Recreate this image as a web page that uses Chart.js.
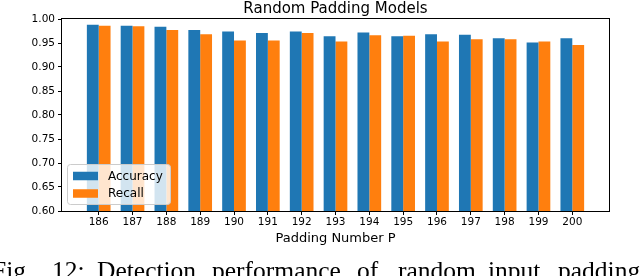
<!DOCTYPE html>
<html>
<head>
<meta charset="utf-8">
<script src="https://cdn.jsdelivr.net/npm/chart.js@4"></script>
<style>
  html, body { margin: 0; padding: 0; background: #fff; overflow: hidden; }
  #wrap { position: relative; width: 640px; height: 276px; }
  #caption span {
    position: absolute; top: 257.5px;
    font-family: "Liberation Serif", serif; font-size: 25.5px;
    line-height: 1; white-space: nowrap; color: #000;
  }
</style>
</head>
<body>
<div id="wrap">
  <canvas id="paddingChart" width="640" height="276"></canvas>
  <div id="caption"></div>
</div>
<script>
// padding number P
const categories = [186, 187, 188, 189, 190, 191, 192, 193, 194, 195, 196, 197, 198, 199, 200];
const accuracy = [0.988, 0.986, 0.984, 0.977, 0.974, 0.971, 0.974, 0.964, 0.972, 0.964, 0.968, 0.967, 0.960, 0.951, 0.960];
const recall = [0.986, 0.985, 0.977, 0.968, 0.955, 0.955, 0.971, 0.953, 0.966, 0.965, 0.953, 0.958, 0.958, 0.953, 0.946];
const yTicks = [0.60, 0.65, 0.70, 0.75, 0.80, 0.85, 0.90, 0.95, 1.00];

const captionWords = ['Fig.', '12:', 'Detection', 'performance', 'of', 'random', 'input', 'padding'];
const captionLeft = [-8, 52, 97, 212, 357, 398, 488, 558];

const cap = document.getElementById('caption');
captionWords.forEach((w, i) => {
    const s = document.createElement('span');
    s.textContent = w;
    s.style.left = captionLeft[i] + 'px';
    cap.appendChild(s);
});

const font = 'DejaVu Sans';

// full box around the plot, like matplotlib spines
const framePlugin = {
    id: 'frame',
    afterDatasetsDraw(chart) {
        const { left, top, right, bottom } = chart.chartArea;
        const ctx = chart.ctx;
        ctx.save();
        ctx.strokeStyle = '#000';
        ctx.lineWidth = 1;
        ctx.strokeRect(Math.round(left) - 0.5, Math.round(top) - 0.5, Math.round(right - left) + 1, Math.round(bottom - top) + 1);
        ctx.restore();
    }
};

// legend inside the lower left corner
const boxLegend = {
    id: 'boxLegend',
    afterDraw(chart) {
        const { left, bottom } = chart.chartArea;
        const ctx = chart.ctx;
        ctx.save();
        ctx.fillStyle = 'rgba(255,255,255,0.8)';
        ctx.strokeStyle = '#cccccc';
        ctx.lineWidth = 1;
        ctx.beginPath();
        ctx.roundRect(left + 5.5, bottom - 46.5, 103, 40, 3);
        ctx.fill();
        ctx.stroke();
        ctx.font = '12px "' + font + '"';
        ctx.textBaseline = 'middle';
        const rows = [bottom - 35, bottom - 17.5];
        chart.data.datasets.forEach((ds, i) => {
            ctx.fillStyle = ds.backgroundColor;
            ctx.fillRect(left + 11, rows[i] - 4.25, 25, 8.5);
            ctx.fillStyle = '#000';
            ctx.fillText(ds.label, left + 46, rows[i] + 0.5);
        });
        ctx.restore();
    }
};

const ctx = document.getElementById('paddingChart').getContext('2d');
const paddingChart = new Chart(ctx, {
    type: 'bar',
    data: {
        datasets: [
            {
                label: 'Accuracy',
                data: categories.map((c, i) => ({ x: c, y: accuracy[i] })),
                backgroundColor: '#1f77b4',
                borderWidth: 0,
                categoryPercentage: 0.7,
                barPercentage: 1.0,
            },
            {
                label: 'Recall',
                data: categories.map((c, i) => ({ x: c, y: recall[i] })),
                backgroundColor: '#ff7f0e',
                borderWidth: 0,
                categoryPercentage: 0.7,
                barPercentage: 1.0,
            }
        ]
    },
    options: {
        responsive: false,
        animation: false,
        devicePixelRatio: 1,
        layout: { padding: { left: 0, right: 31, top: 0, bottom: 30 } },
        scales: {
            x: {
                type: 'linear',
                offset: false,
                min: categories[0] - 1.085,
                max: categories[categories.length - 1] + 1.085,
                afterBuildTicks: (scale) => { scale.ticks = categories.map(v => ({ value: v })); },
                afterFit: (scale) => { scale.height = 35; },
                ticks: {
                    includeBounds: false,
                    autoSkip: false,
                    maxRotation: 0,
                    padding: 1,
                    color: '#000',
                    font: { family: font, size: 10.5 },
                    callback: (v) => String(v),
                },
                grid: { offset: false, drawOnChartArea: false, drawTicks: true, tickLength: 4, color: '#000' },
                border: { display: false },
                title: {
                    display: true,
                    text: 'Padding Number P',
                    color: '#000',
                    font: { family: font, size: 13 },
                    padding: 0,
                }
            },
            y: {
                min: 0.6,
                max: 1.0,
                afterBuildTicks: (scale) => { scale.ticks = yTicks.map(v => ({ value: v })); },
                afterFit: (scale) => { scale.width = 62; },
                ticks: {
                    padding: 3,
                    color: '#000',
                    font: { family: font, size: 10.5 },
                    callback: (v) => v.toFixed(2),
                },
                grid: { drawOnChartArea: false, drawTicks: true, tickLength: 4, color: '#000' },
                border: { display: false },
            }
        },
        plugins: {
            legend: { display: false },
            tooltip: { enabled: false },
            title: {
                display: true,
                text: 'Random Padding Models',
                fullSize: false,
                color: '#000',
                font: { family: font, size: 15, weight: 'normal', lineHeight: 1.2 },
                padding: { top: 0, bottom: 1 },
            }
        }
    },
    plugins: [framePlugin, boxLegend]
});
</script>
</body>
</html>
